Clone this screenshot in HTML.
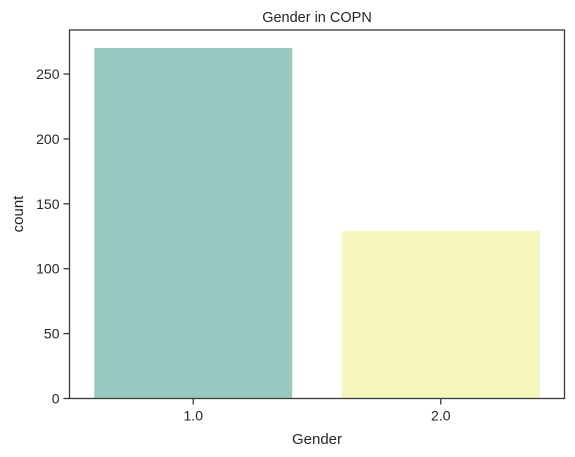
<!DOCTYPE html>
<html><head><meta charset="utf-8"><style>
body{margin:0;background:#fff;}
svg{display:block;font-family:"Liberation Sans",Arial,sans-serif;}
</style></head><body>
<svg id="chart" width="575" height="457">
<rect width="575" height="457" fill="#fff"/>
<text x="317" y="22" text-anchor="middle" font-size="14.5" fill="#262626">Gender in COPN</text>
<text x="317" y="444" text-anchor="middle" font-size="15" fill="#262626">Gender</text>
<text transform="translate(23,214) rotate(-90)" text-anchor="middle" font-size="15" fill="#262626">count</text>
<g id="bars"></g>
<g id="axes"></g>
</svg>
<script>
const categories = ["1.0", "2.0"];
const counts = [270, 129];
const colors = ["#98c9c1", "#f6f5bc"];
const yTicks = [0, 50, 100, 150, 200, 250];

const L = 69.5, R = 564.5, T = 30, B = 398.5;
const yScale = 1.298;
const y = v => B - v * yScale;
const step = (R - L) / categories.length;
const x = i => L + step * (i + 0.5);
const NS = "http://www.w3.org/2000/svg";
const bars = document.getElementById("bars");
const axes = document.getElementById("axes");
function mk(tag, attrs, parent){const e=document.createElementNS(NS,tag);for(const k in attrs)e.setAttribute(k,attrs[k]);parent.appendChild(e);return e;}

categories.forEach((c,i)=>{
  const w = step*0.8;
  const r = mk("rect",{x:x(i)-w/2,y:y(counts[i]),width:w,height:B-y(counts[i]),fill:colors[i]},bars);
  
  
  const t = mk("line",{x1:x(i),x2:x(i),y1:B,y2:B+6,stroke:"#3a3a3a","stroke-width":1.3},axes);
  
  
  const lbl = mk("text",{x:x(i),y:B+22,"text-anchor":"middle","font-size":14,fill:"#262626"},axes);
  lbl.textContent = c;
  
  
});
yTicks.forEach(v=>{
  const t = mk("line",{x1:L-6,x2:L,y1:y(v),y2:y(v),stroke:"#3a3a3a","stroke-width":1.3},axes);
  
  
  const lbl = mk("text",{x:L-10,y:y(v)+5,"text-anchor":"end","font-size":14,fill:"#262626"},axes);
  lbl.textContent = v;
  
  
});
const frame = mk("rect",{x:L,y:T,width:R-L,height:B-T,fill:"none",stroke:"#3a3a3a","stroke-width":1.3},axes);


</script>
</body></html>
